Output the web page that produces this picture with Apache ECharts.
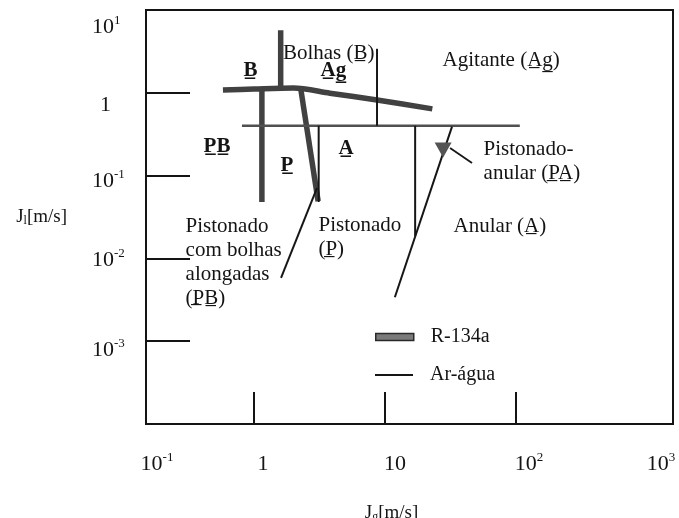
<!DOCTYPE html>
<html>
<head>
<meta charset="utf-8">
<script src="https://cdn.jsdelivr.net/npm/echarts@6/dist/echarts.min.js"></script>
<style>
html,body{margin:0;padding:0;background:#ffffff;}
#chart{width:679px;height:518px;}
</style>
</head>
<body>
<div id="chart"></div>
<script>
// ---------- data (Jg [m/s], Jl [m/s]) ----------
// R-134a transition boundaries (thick lines)
const r134aBolhasAgitante = [[0.58, 1.08], [1.0, 1.11], [2.0, 1.14], [3.8, 0.99], [8.7, 0.82], [23, 0.64]];
const r134aVerticalTop    = [[1.6, 5.7], [1.6, 1.13]];
const r134aBolhasPB       = [[1.15, 1.09], [1.15, 0.048]];
const r134aPistonadoA     = [[2.28, 1.1], [3.09, 0.049]];

// Air-water transition boundaries (thin lines)
const awHorizontal        = [[0.81, 0.4], [107, 0.4]];
const awVerticalBolhas    = [[8.7, 3.4], [8.7, 0.4]];
const awVerticalP         = [[3.12, 0.4], [3.12, 0.048]];
const awSlantPB           = [[3.03, 0.071], [1.61, 0.0058]];
const awVerticalAnular    = [[17, 0.4], [17, 0.0186]];
const awSlantAnular       = [[32.5, 0.39], [11.9, 0.0034]];

// Pistonado-anular marker and its pointer
const paMarker  = [[27.8, 0.204]];
const paPointer = [[31.4, 0.215], [46.2, 0.142]];

// tick labels
const xTickValues = [1, 10, 100];
const yTickValues = [0.001, 0.01, 0.1, 1];
const xTickLabels = ['10{s|-1}', '1', '10', '10{s|2}', '10{s|3}'];
const yTickLabels = ['10{s|1}', '1', '10{s|-1}', '10{s|-2}', '10{s|-3}'];

// region annotations: text anchored (left, middle) at [Jg, Jl]
const U = '\u0332';
function ul(s) { return s.split('').map(function (c) { return c + U; }).join(''); }
const regionLabels = [
  { text: 'Bolhas (' + ul('B') + ')', x: 1.65, y: 3.0 },
  { text: '{b|' + ul('B') + '}', x: 0.826, y: 1.86 },
  { text: '{b|' + ul('Ag') + '}', x: 3.2, y: 1.86 },
  { text: 'Agitante (' + ul('Ag') + ')', x: 27.3, y: 2.49 },
  { text: '{b|' + ul('PB') + '}', x: 0.409, y: 0.222 },
  { text: '{b|' + ul('P') + '}', x: 1.58, y: 0.131 },
  { text: '{b|' + ul('A') + '}', x: 4.38, y: 0.21 },
  { text: 'Pistonado-\nanular (' + ul('PA') + ')', x: 56.1, y: 0.148 },
  { text: 'Anular (' + ul('A') + ')', x: 33.1, y: 0.0246 },
  { text: 'Pistonado\n(' + ul('P') + ')', x: 3.08, y: 0.0179 },
  { text: 'Pistonado\ncom bolhas\nalongadas\n(' + ul('PB') + ')', x: 0.298, y: 0.00905 }
];

// ---------- chart ----------
const FONT = 'Liberation Serif';
const INK = '#141414';
const X_MIN = 0.15, X_MAX = 1580, Y_MIN = 1e-4, Y_MAX = 10;
const xLabelPos = [-0.740, 0.069, 1.077, 2.100, 3.108];
const yLabelPos = [0.795, -0.147, -1.065, -2.019, -3.106];

function nearest(arr, v) {
  let bi = 0, bd = Infinity;
  arr.forEach(function (p, i) { const d = Math.abs(p - v); if (d < bd) { bd = d; bi = i; } });
  return bi;
}

const thick = { width: 5.5, color: '#414141' };
const thin = { width: 2, color: '#161616' };

function lineSeries(name, data, style, smooth) {
  return {
    type: 'line', name: name, data: data, xAxisIndex: 0, yAxisIndex: 0,
    symbol: 'none', showSymbol: false, smooth: smooth || false,
    lineStyle: style, itemStyle: { color: style.color }, silent: true, z: 3
  };
}

const series = [
  lineSeries('R-134a', r134aBolhasAgitante, thick, 0.3),
  lineSeries('R-134a', r134aVerticalTop, thick),
  lineSeries('R-134a', r134aBolhasPB, thick),
  lineSeries('R-134a', r134aPistonadoA, thick),
  lineSeries('Ar-água', awHorizontal, { width: 2.5, color: '#505050' }),
  lineSeries('Ar-água', awVerticalBolhas, thin),
  lineSeries('Ar-água', awVerticalP, thin),
  lineSeries('Ar-água', awSlantPB, thin),
  lineSeries('Ar-água', awVerticalAnular, thin),
  lineSeries('Ar-água', awSlantAnular, thin),
  lineSeries('pointer', paPointer, { width: 1.8, color: '#161616' }),
  {
    type: 'scatter', name: 'PA', data: paMarker, xAxisIndex: 0, yAxisIndex: 0,
    symbol: 'triangle', symbolRotate: 180, symbolSize: [17, 15],
    itemStyle: { color: '#545454', opacity: 1 }, silent: true, z: 4
  },
  {
    type: 'scatter', name: 'labels', xAxisIndex: 0, yAxisIndex: 0,
    symbolSize: 1, itemStyle: { color: 'transparent', opacity: 1 }, silent: true, z: 5,
    data: regionLabels.map(function (d) { return { value: [d.x, d.y], label: { formatter: d.text } }; }),
    label: {
      show: true, position: 'right', distance: 0, align: 'left', opacity: 1,
      fontFamily: FONT, fontSize: 21, lineHeight: 24, color: INK,
      rich: { b: { fontFamily: FONT, fontSize: 21, fontWeight: 'bold', color: INK, lineHeight: 24 } }
    }
  }
];

const tickRich = {
  s: { fontFamily: FONT, fontSize: 13, color: INK, verticalAlign: 'top' },
  one: { fontFamily: FONT, fontSize: 22, color: INK, padding: [0, 0, 0, 8] }
};

const option = {
  animation: false,
  backgroundColor: '#ffffff',
  grid: {
    left: 146, right: 6, top: 10, bottom: 94,
    show: true, borderColor: INK, borderWidth: 2, backgroundColor: 'transparent',
    outerBoundsMode: 'none', containLabel: false
  },
  legend: [
    {
      data: [{ name: 'R-134a', icon: 'rect', itemStyle: { color: '#7a7a7a', borderColor: '#2a2a2a', borderWidth: 1.5 } }],
      left: 375, top: 327, padding: 0, itemWidth: 38, itemHeight: 7, selectedMode: false,
      textStyle: { fontFamily: FONT, fontSize: 20, color: INK, padding: [0, 0, 0, 12] }
    },
    {
      data: [{ name: 'Ar-água', icon: 'rect', itemStyle: { color: '#161616', borderWidth: 0 } }],
      left: 375, top: 365, padding: 0, itemWidth: 38, itemHeight: 2, selectedMode: false,
      textStyle: { fontFamily: FONT, fontSize: 20, color: INK, padding: [0, 0, 0, 12] }
    }
  ],
  xAxis: [
    { type: 'log', logBase: 10, min: X_MIN, max: X_MAX, show: false, gridIndex: 0 },
    {
      type: 'value', gridIndex: 0, position: 'bottom',
      min: Math.log10(X_MIN), max: Math.log10(X_MAX),
      axisLine: { show: false }, splitLine: { show: false },
      axisTick: { show: true, inside: true, length: 32, customValues: xTickValues.map(Math.log10), lineStyle: { color: INK, width: 2 } },
      axisLabel: {
        show: true, customValues: xLabelPos, margin: 27,
        fontFamily: FONT, fontSize: 22, color: INK, lineHeight: 26, rich: tickRich,
        formatter: function (v) { return xTickLabels[nearest(xLabelPos, v)]; }
      },
      name: 'J{sub|g}[m/s]', nameLocation: 'middle', nameGap: 80,
      nameTextStyle: { fontFamily: FONT, fontSize: 19, color: INK, padding: [0, 36, 0, 0],
        rich: { sub: { fontFamily: FONT, fontSize: 12, color: INK, verticalAlign: 'bottom' } } }
    }
  ],
  yAxis: [
    { type: 'log', logBase: 10, min: Y_MIN, max: Y_MAX, show: false, gridIndex: 0 },
    {
      type: 'value', gridIndex: 0, position: 'left',
      min: Math.log10(Y_MIN), max: Math.log10(Y_MAX),
      axisLine: { show: false }, splitLine: { show: false },
      axisTick: { show: true, inside: true, length: 44, customValues: yTickValues.map(Math.log10), lineStyle: { color: INK, width: 2 } },
      axisLabel: {
        show: true, customValues: yLabelPos, margin: 54, align: 'left',
        fontFamily: FONT, fontSize: 22, color: INK, lineHeight: 26, rich: tickRich,
        formatter: function (v) {
          const t = yTickLabels[nearest(yLabelPos, v)];
          return t === '1' ? '{one|1}' : t;
        }
      },
      name: 'J{sub|l}[m/s]', nameLocation: 'middle', nameRotate: 0, nameGap: 79,
      nameTextStyle: { fontFamily: FONT, fontSize: 19, color: INK,
        rich: { sub: { fontFamily: FONT, fontSize: 12, color: INK, verticalAlign: 'bottom' } } }
    }
  ],
  series: series
};

const chart = echarts.init(document.getElementById('chart'), null, { renderer: 'canvas' });
chart.setOption(option);
</script>
</body>
</html>
